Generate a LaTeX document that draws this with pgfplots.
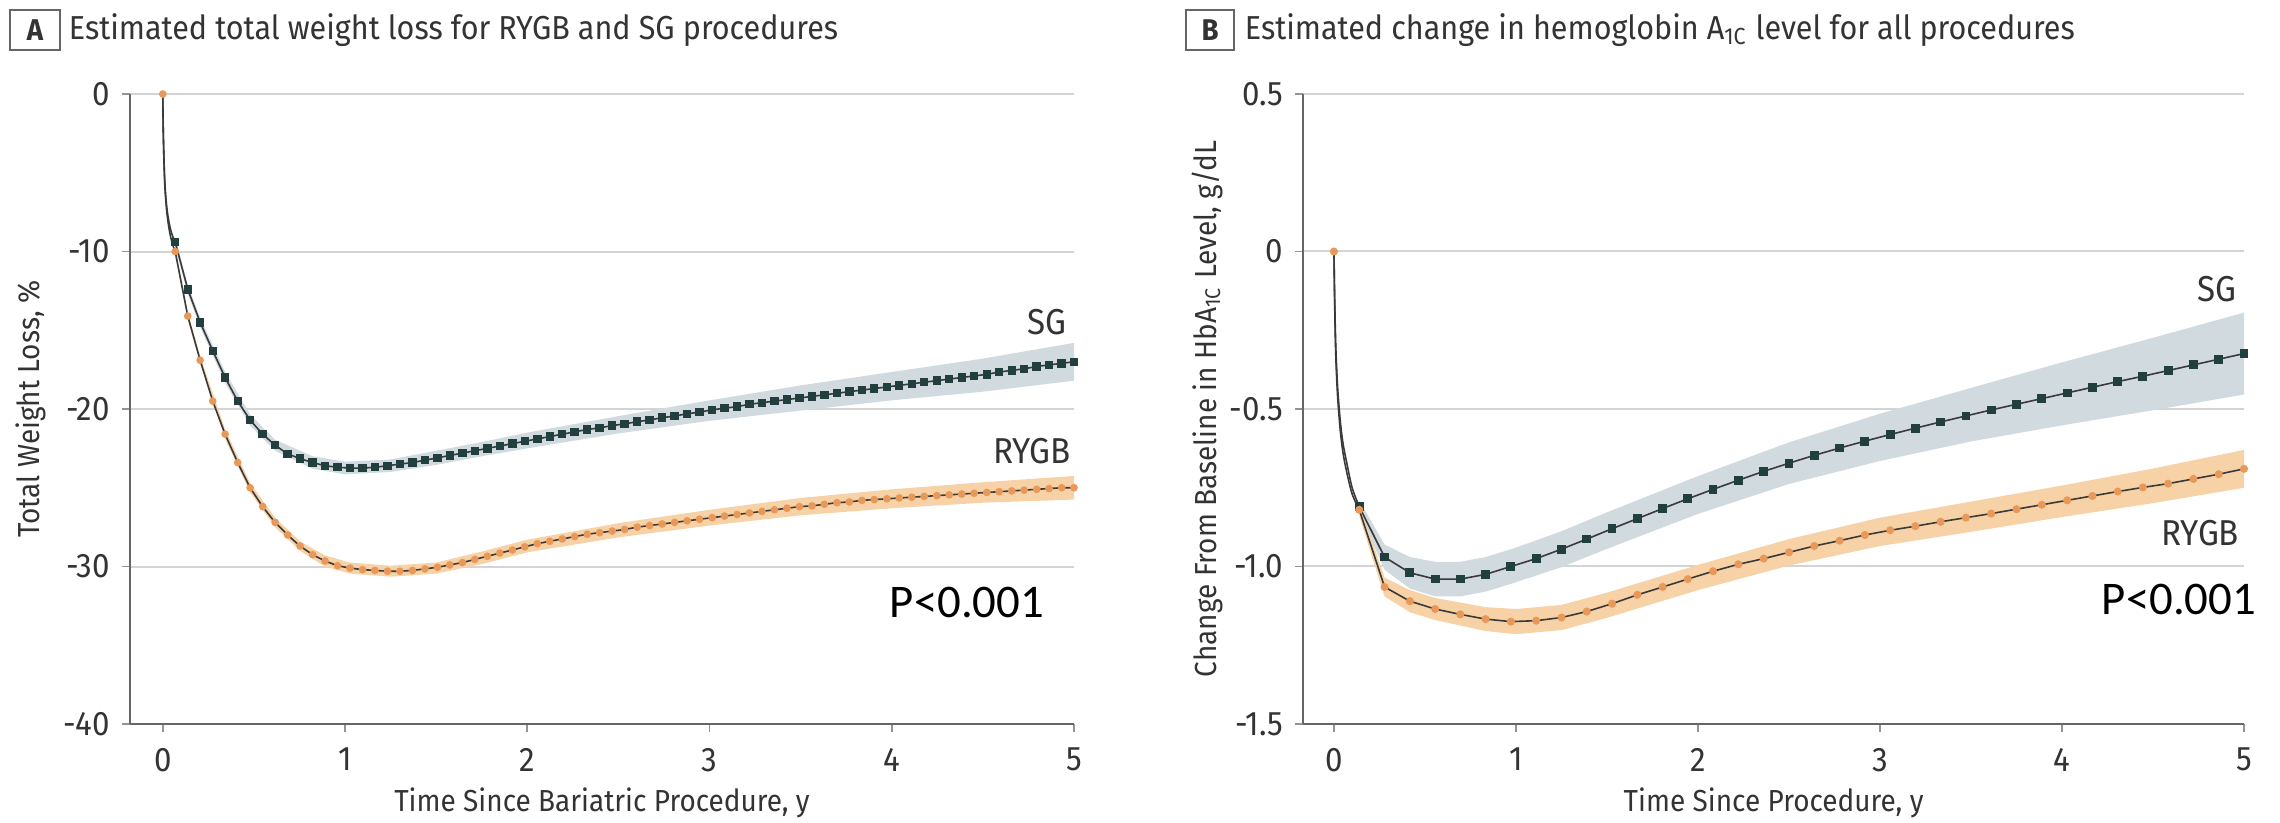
\documentclass[border=0pt]{standalone}
\usepackage{fontspec}
\setmainfont{Fira Sans}[FakeStretch=0.92]
\newfontfamily\pfont{Carlito}
\usepackage{pgfplots}
\usepackage{pgfplotstable}
\pgfplotsset{compat=1.18}
\definecolor{sgmark}{HTML}{223F3F}
\definecolor{rymark}{HTML}{E8995A}
\definecolor{linecol}{HTML}{3A3A3A}
\definecolor{sgband}{HTML}{D1DADF}
\definecolor{ryband}{HTML}{F6D2A6}
\definecolor{gridcol}{HTML}{D4D4D4}
\definecolor{axiscol}{HTML}{666666}
\definecolor{txt}{HTML}{333333}

\pgfplotstableread{
x sg ry
0 0 0
0.068 -9.4 -10.0
0.137 -12.4 -14.1
0.205 -14.5 -16.9
0.274 -16.3 -19.5
0.342 -18.0 -21.6
0.411 -19.5 -23.4
0.479 -20.7 -25.0
0.548 -21.6 -26.2
0.616 -22.3 -27.2
0.685 -22.85 -28.0
0.753 -23.15 -28.7
0.822 -23.4 -29.25
0.890 -23.6 -29.65
0.959 -23.7 -29.95
1.027 -23.75 -30.1
1.096 -23.75 -30.2
1.164 -23.7 -30.25
1.233 -23.6 -30.3
1.301 -23.5 -30.3
1.370 -23.4 -30.25
1.438 -23.25 -30.15
1.507 -23.1 -30.05
1.575 -22.95 -29.9
1.644 -22.8 -29.75
1.712 -22.65 -29.55
1.781 -22.5 -29.35
1.849 -22.35 -29.15
1.918 -22.2 -28.95
1.986 -22.05 -28.75
2.055 -21.9 -28.55
2.123 -21.75 -28.4
2.192 -21.6 -28.25
2.260 -21.45 -28.1
2.329 -21.3 -27.95
2.397 -21.2 -27.85
2.466 -21.05 -27.75
2.534 -20.95 -27.65
2.603 -20.8 -27.5
2.671 -20.7 -27.4
2.740 -20.55 -27.3
2.808 -20.45 -27.2
2.877 -20.3 -27.1
2.945 -20.2 -27.0
3.014 -20.05 -26.9
3.082 -19.95 -26.8
3.151 -19.85 -26.7
3.219 -19.7 -26.6
3.288 -19.6 -26.5
3.356 -19.5 -26.4
3.425 -19.4 -26.3
3.493 -19.3 -26.2
3.562 -19.2 -26.15
3.630 -19.1 -26.05
3.699 -19.0 -25.95
3.767 -18.9 -25.9
3.836 -18.8 -25.8
3.904 -18.7 -25.75
3.973 -18.6 -25.7
4.041 -18.5 -25.65
4.110 -18.4 -25.6
4.178 -18.3 -25.55
4.247 -18.2 -25.5
4.315 -18.1 -25.45
4.384 -18.0 -25.4
4.452 -17.9 -25.35
4.521 -17.8 -25.3
4.589 -17.65 -25.25
4.658 -17.55 -25.2
4.726 -17.45 -25.15
4.795 -17.3 -25.1
4.863 -17.2 -25.05
4.932 -17.1 -25.0
5.000 -17.0 -25.0
}\dataA

\pgfplotstableread{
x sg ry
0 0 0
0.139 -0.81 -0.82
0.278 -0.97 -1.065
0.417 -1.02 -1.11
0.556 -1.04 -1.135
0.694 -1.04 -1.152
0.833 -1.025 -1.167
0.972 -1.0 -1.175
1.111 -0.975 -1.172
1.250 -0.945 -1.162
1.389 -0.913 -1.143
1.528 -0.88 -1.118
1.667 -0.848 -1.09
1.806 -0.816 -1.065
1.944 -0.785 -1.04
2.083 -0.755 -1.015
2.222 -0.726 -0.993
2.361 -0.698 -0.975
2.500 -0.672 -0.955
2.639 -0.647 -0.935
2.778 -0.624 -0.918
2.917 -0.602 -0.9
3.056 -0.581 -0.885
3.194 -0.561 -0.872
3.333 -0.541 -0.858
3.472 -0.522 -0.845
3.611 -0.503 -0.832
3.750 -0.485 -0.818
3.889 -0.467 -0.804
4.028 -0.449 -0.79
4.167 -0.431 -0.776
4.306 -0.413 -0.762
4.444 -0.396 -0.749
4.583 -0.378 -0.737
4.722 -0.36 -0.722
4.861 -0.342 -0.707
5.000 -0.324 -0.69
}\dataB

\pgfplotsset{
  panel/.style={
    scale only axis, width=236pt, height=157.5pt,
    axis lines=left, axis line style={draw=axiscol, line width=0.5pt, -},
    ymajorgrids, grid style={draw=gridcol, line width=0.5pt},
    tick align=outside, major tick length=2pt,
    tick style={draw=axiscol!70, line width=0.4pt},
    xtick={0,1,2,3,4,5}, xticklabels={0,1,2,3,4,5},
    tick label style={font=\fontsize{8.5}{9.5}\selectfont, text=txt},
    xticklabel style={yshift=-0.5pt},
    yticklabel style={xshift=0.5pt},
  },
  sgm/.style={only marks, mark=square*, mark size=0.85pt, draw=sgmark, fill=sgmark},
  rym/.style={only marks, mark=*, mark size=0.75pt, draw=rymark, fill=rymark},
  ln/.style={draw=linecol, line width=0.4pt, no marks},
}
\tikzset{lab/.style={text=txt, font=\fontsize{9}{10}\selectfont},
  axl/.style={text=txt, font=\fontsize{7.6}{8.5}\selectfont}}

\begin{document}
\begin{tikzpicture}
\useasboundingbox (0,0) rectangle (570pt,205.75pt);
% ---------------- Panel A
\begin{axis}[panel, at={(32.5pt,24.75pt)}, anchor=south west,
  xmin=-0.18, xmax=5, ymin=-40, ymax=0,
  ytick={-40,-30,-20,-10,0}, yticklabels={-40,-30,-20,-10,0}]
\addplot[fill=sgband, draw=none] coordinates {
 (0.068,-9.1) (0.137,-12.1) (0.205,-14.2) (0.342,-17.65) (0.479,-20.35) (0.616,-21.95)
 (0.822,-23.0) (1.0,-23.35) (1.25,-23.2) (1.5,-22.65) (1.75,-22.1) (2.0,-21.5)
 (2.5,-20.45) (3.0,-19.45) (3.5,-18.5) (4.0,-17.65) (4.5,-16.8) (5.0,-15.8)
 (5.0,-18.2) (4.5,-18.9) (4.0,-19.45) (3.5,-20.1) (3.0,-20.75) (2.5,-21.55)
 (2.0,-22.5) (1.75,-23.0) (1.5,-23.55) (1.25,-24.0) (1.0,-24.15) (0.822,-23.8)
 (0.616,-22.65) (0.479,-21.05) (0.342,-18.35) (0.205,-14.8) (0.137,-12.7) (0.068,-9.7)
} -- cycle;
\addplot[fill=ryband, draw=none] coordinates {
 (0.068,-9.75) (0.137,-13.85) (0.205,-16.65) (0.342,-21.3) (0.479,-24.7) (0.616,-26.9)
 (0.753,-28.4) (0.890,-29.3) (1.027,-29.75) (1.25,-29.95) (1.5,-29.75) (1.75,-29.05)
 (2.0,-28.3) (2.5,-27.25) (3.0,-26.4) (3.5,-25.65) (4.0,-25.1) (4.5,-24.65) (5.0,-24.25)
 (5.0,-25.75) (4.5,-25.95) (4.0,-26.3) (3.5,-26.75) (3.0,-27.4) (2.5,-28.15) (2.0,-29.1)
 (1.75,-29.85) (1.5,-30.45) (1.25,-30.65) (1.027,-30.45) (0.890,-30.0) (0.753,-29.0)
 (0.616,-27.5) (0.479,-25.3) (0.342,-21.9) (0.205,-17.15) (0.137,-14.35) (0.068,-10.25)
} -- cycle;
% SG
\addplot[ln, smooth] coordinates {(0,0) (0.002,-2) (0.006,-4) (0.012,-5.8) (0.022,-7.2) (0.035,-8.2) (0.05,-8.9) (0.068,-9.4)};
\addplot[ln] table[x=x, y=sg, skip coords between index={0}{1}] {\dataA};
\addplot[sgm] table[x=x, y=sg, skip coords between index={0}{1}] {\dataA};
% RYGB
\addplot[ln, smooth] coordinates {(0,0) (0.002,-2) (0.006,-4.1) (0.012,-6) (0.022,-7.5) (0.035,-8.6) (0.05,-9.4) (0.068,-10.0)};
\addplot[ln] table[x=x, y=ry, skip coords between index={0}{1}] {\dataA};
\addplot[rym] table[x=x, y=ry] {\dataA};
\node[lab] at (axis cs:4.85,-14.5) {SG};
\node[lab] at (axis cs:4.77,-22.7) {RYGB};
\end{axis}
% ---------------- Panel B
\begin{axis}[panel, width=235.25pt, at={(325.75pt,24.75pt)}, anchor=south west,
  xmin=-0.17, xmax=5, ymin=-1.5, ymax=0.5,
  ytick={-1.5,-1,-0.5,0,0.5}, yticklabels={-1.5,-1.0,-0.5,0,0.5}]
\addplot[fill=sgband, draw=none] coordinates {
 (0.139,-0.79) (0.278,-0.93) (0.417,-0.97) (0.556,-0.985) (0.694,-0.985) (0.833,-0.97)
 (1.0,-0.94) (1.25,-0.888) (1.5,-0.828) (2.0,-0.713) (2.5,-0.606) (3.0,-0.515)
 (3.5,-0.433) (4.0,-0.352) (4.5,-0.274) (5.0,-0.194)
 (5.0,-0.454) (4.5,-0.504) (4.0,-0.552) (3.5,-0.603) (3.0,-0.665) (2.5,-0.738)
 (2.0,-0.833) (1.5,-0.944) (1.25,-1.002) (1.0,-1.05) (0.833,-1.08) (0.694,-1.095)
 (0.556,-1.095) (0.417,-1.07) (0.278,-1.01) (0.139,-0.83)
} -- cycle;
\addplot[fill=ryband, draw=none] coordinates {
 (0.139,-0.80) (0.278,-1.035) (0.417,-1.075) (0.556,-1.10) (0.833,-1.129) (1.0,-1.135)
 (1.25,-1.122) (1.5,-1.083) (2.0,-0.995) (2.5,-0.913) (3.0,-0.845) (3.5,-0.794)
 (4.0,-0.743) (4.5,-0.689) (5.0,-0.63)
 (5.0,-0.75) (4.5,-0.799) (4.0,-0.843) (3.5,-0.89) (3.0,-0.935) (2.5,-0.997)
 (2.0,-1.075) (1.5,-1.163) (1.25,-1.202) (1.0,-1.215) (0.833,-1.205) (0.556,-1.17)
 (0.417,-1.145) (0.278,-1.095) (0.139,-0.84)
} -- cycle;
\addplot[ln, smooth] coordinates {(0,0) (0.004,-0.15) (0.01,-0.3) (0.02,-0.43) (0.035,-0.54) (0.05,-0.61) (0.07,-0.67) (0.1,-0.75) (0.139,-0.81)};
\addplot[ln] table[x=x, y=sg, skip coords between index={0}{1}] {\dataB};
\addplot[sgm, mark size=0.9pt] table[x=x, y=sg, skip coords between index={0}{1}] {\dataB};
\addplot[ln, smooth] coordinates {(0,0) (0.004,-0.17) (0.01,-0.33) (0.02,-0.46) (0.035,-0.57) (0.05,-0.64) (0.07,-0.7) (0.1,-0.77) (0.139,-0.82)};
\addplot[ln] table[x=x, y=ry, skip coords between index={0}{1}] {\dataB};
\addplot[rym, mark size=0.8pt] table[x=x, y=ry] {\dataB};
\node[lab] at (axis cs:4.85,-0.12) {SG};
\node[lab] at (axis cs:4.76,-0.895) {RYGB};
\end{axis}
% ---------------- Texts
\node[draw=axiscol, line width=0.5pt, minimum width=12.5pt, minimum height=10pt, inner sep=0pt,
  font=\bfseries\fontsize{7.5}{8}\selectfont, text=txt] at (8.75pt,198.2pt) {A};
\node[anchor=west, inner sep=0pt, font=\fontsize{8.3}{9}\selectfont, text=txt] at (17pt,198.2pt)
  {Estimated total weight loss for RYGB and SG procedures};
\node[draw=axiscol, line width=0.5pt, minimum width=12pt, minimum height=10pt, inner sep=0pt,
  font=\bfseries\fontsize{7.5}{8}\selectfont, text=txt] at (302.5pt,198.2pt) {B};
\node[anchor=west, inner sep=0pt, font=\fontsize{8.3}{9}\selectfont, text=txt] at (311pt,198.2pt)
  {Estimated change in hemoglobin A\textsubscript{1C} level for all procedures};
\node[rotate=90, axl] at (7.8pt,103.5pt) {Total Weight Loss, \%};
\node[rotate=90, axl] at (301.75pt,103.5pt)
  {Change From Baseline in HbA\textsubscript{1C} Level, g/dL};
\node[axl] at (150.5pt,5pt) {Time Since Bariatric Procedure, y};
\node[axl] at (443.4pt,5pt) {Time Since Procedure, y};
\node[font=\pfont\fontsize{11.7}{13}\selectfont, text=black] at (241.75pt,55pt) {P<0.001};
\node[font=\pfont\fontsize{11.7}{13}\selectfont, text=black] at (544.75pt,55.75pt) {P<0.001};
\end{tikzpicture}
\end{document}
